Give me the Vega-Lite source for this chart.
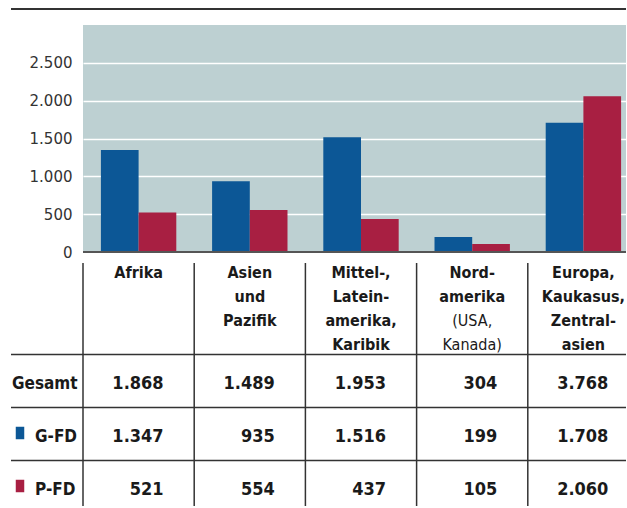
{
  "$schema": "https://vega.github.io/schema/vega-lite/v6.json",
  "width": 543,
  "height": 227,
  "padding": {"left": 10, "top": 8, "right": 0, "bottom": 0},
  "background": "white",
  "config": {
    "view": {"fill": "#bdd0d2", "stroke": null},
    "locale": {"number": {"decimal": ",", "thousands": ".", "grouping": [3], "currency": ["", " €"]}},
    "text": {"font": "DejaVu Sans Condensed"}
  },
  "datasets": {
    "werte": [
      {"Region": "Afrika", "Reihe": "Gesamt", "Wert": 1868},
      {"Region": "Afrika", "Reihe": "G-FD", "Wert": 1347},
      {"Region": "Afrika", "Reihe": "P-FD", "Wert": 521},
      {"Region": "Asien und Pazifik", "Reihe": "Gesamt", "Wert": 1489},
      {"Region": "Asien und Pazifik", "Reihe": "G-FD", "Wert": 935},
      {"Region": "Asien und Pazifik", "Reihe": "P-FD", "Wert": 554},
      {"Region": "Mittel-, Lateinamerika, Karibik", "Reihe": "Gesamt", "Wert": 1953},
      {"Region": "Mittel-, Lateinamerika, Karibik", "Reihe": "G-FD", "Wert": 1516},
      {"Region": "Mittel-, Lateinamerika, Karibik", "Reihe": "P-FD", "Wert": 437},
      {"Region": "Nordamerika (USA, Kanada)", "Reihe": "Gesamt", "Wert": 304},
      {"Region": "Nordamerika (USA, Kanada)", "Reihe": "G-FD", "Wert": 199},
      {"Region": "Nordamerika (USA, Kanada)", "Reihe": "P-FD", "Wert": 105},
      {"Region": "Europa, Kaukasus, Zentralasien", "Reihe": "Gesamt", "Wert": 3768},
      {"Region": "Europa, Kaukasus, Zentralasien", "Reihe": "G-FD", "Wert": 1708},
      {"Region": "Europa, Kaukasus, Zentralasien", "Reihe": "P-FD", "Wert": 2060}
    ],
    "koepfe": [
      {"Region": "Afrika", "Kopf": "Afrika", "Zusatz": ""},
      {"Region": "Asien und Pazifik", "Kopf": "Asien\nund\nPazifik", "Zusatz": ""},
      {"Region": "Mittel-, Lateinamerika, Karibik", "Kopf": "Mittel-,\nLatein-\namerika,\nKaribik", "Zusatz": ""},
      {"Region": "Nordamerika (USA, Kanada)", "Kopf": "Nord-\namerika", "Zusatz": "(USA,\nKanada)"},
      {"Region": "Europa, Kaukasus, Zentralasien", "Kopf": "Europa,\nKaukasus,\nZentral-\nasien", "Zusatz": ""}
    ]
  },
  "resolve": {"scale": {"y": "independent"}},
  "layer": [
    {
      "layer": [
        {
          "data": {"name": "werte"},
          "transform": [{"filter": "datum.Reihe !== 'Gesamt'"}],
          "mark": {"type": "bar"},
          "encoding": {
            "x": {"field": "Region", "type": "nominal", "axis": null,
                  "scale": {"domain": ["Afrika", "Asien und Pazifik", "Mittel-, Lateinamerika, Karibik", "Nordamerika (USA, Kanada)", "Europa, Kaukasus, Zentralasien"], "range": [0, 556], "paddingInner": 0, "paddingOuter": 0}},
            "xOffset": {"field": "Reihe", "type": "nominal", "scale": {"domain": ["G-FD", "P-FD"], "paddingInner": 0, "paddingOuter": 0.475}},
            "y": {"field": "Wert", "type": "quantitative",
                  "scale": {"domain": [0, 3000], "nice": false},
                  "axis": {"values": [0, 500, 1000, 1500, 2000, 2500], "format": ",d", "grid": true, "gridColor": "white", "gridWidth": 1.5, "domain": false, "ticks": false, "labelFont": "DejaVu Sans", "labelFontSize": 15, "labelColor": "#333", "labelPadding": 11, "title": null}},
            "color": {"field": "Reihe", "type": "nominal", "legend": null,
                      "scale": {"domain": ["G-FD", "P-FD"], "range": ["#0c5796", "#a81f42"]}}
          }
        },
        {
          "data": {"values": [{}]},
          "mark": {"type": "rule", "color": "#555555", "strokeWidth": 2},
          "encoding": {"y": {"datum": 0, "type": "quantitative"}}
        },
        {
          "data": {"values": [{}]},
          "mark": {"type": "rule", "color": "#333333", "strokeWidth": 2, "yOffset": -16, "xOffset": -72},
          "encoding": {
            "x": {"datum": "Afrika", "type": "nominal", "bandPosition": 0},
            "x2": {"value": "width"},
            "y": {"datum": 3000, "type": "quantitative"}
          }
        },
        {
          "data": {"name": "koepfe"},
          "mark": {"type": "rule", "color": "#333333", "strokeWidth": 1.5, "yOffset": 11, "y2Offset": 254},
          "encoding": {
            "x": {"field": "Region", "type": "nominal", "bandPosition": 0},
            "y": {"datum": 0, "type": "quantitative"},
            "y2": {"datum": 0}
          }
        },
        {
          "data": {"name": "koepfe"},
          "mark": {"type": "text", "lineBreak": "\n", "lineHeight": 24, "fontSize": 16, "fontWeight": "bold", "color": "#1a1a1a", "align": "center", "baseline": "alphabetic", "dy": 26},
          "encoding": {
            "x": {"field": "Region", "type": "nominal"},
            "y": {"datum": 0, "type": "quantitative"},
            "text": {"field": "Kopf"}
          }
        },
        {
          "data": {"name": "koepfe"},
          "transform": [{"filter": "datum.Zusatz !== ''"}],
          "mark": {"type": "text", "lineBreak": "\n", "lineHeight": 24, "fontSize": 16, "color": "#1a1a1a", "align": "center", "baseline": "alphabetic", "dy": 74},
          "encoding": {
            "x": {"field": "Region", "type": "nominal"},
            "y": {"datum": 0, "type": "quantitative"},
            "text": {"field": "Zusatz"}
          }
        }
      ]
    },
    {
      "layer": [
        {
          "data": {"name": "werte"},
          "transform": [{"filter": "datum.Region === 'Afrika'"}],
          "mark": {"type": "rule", "color": "#333333", "strokeWidth": 1.5, "xOffset": -72},
          "encoding": {
            "x": {"field": "Region", "type": "nominal", "bandPosition": 0},
            "x2": {"value": "width"},
            "y": {"field": "Reihe", "type": "nominal", "bandPosition": 0, "axis": null,
                  "scale": {"domain": ["Gesamt", "G-FD", "P-FD"], "range": [329.5, 488.5], "paddingInner": 0, "paddingOuter": 0}}
          }
        },
        {
          "data": {"name": "werte"},
          "mark": {"type": "text", "fontSize": 18, "fontWeight": "bold", "color": "#1a1a1a", "align": "right", "baseline": "alphabetic", "dx": 25, "dy": 8},
          "encoding": {
            "x": {"field": "Region", "type": "nominal"},
            "y": {"field": "Reihe", "type": "nominal"},
            "text": {"field": "Wert", "type": "quantitative", "format": ",d"}
          }
        },
        {
          "data": {"name": "werte"},
          "transform": [{"filter": "datum.Region === 'Afrika' && datum.Reihe === 'Gesamt'"}],
          "mark": {"type": "text", "fontSize": 17, "fontWeight": "bold", "color": "#1a1a1a", "align": "left", "baseline": "alphabetic", "dx": -71, "dy": 8},
          "encoding": {
            "x": {"field": "Region", "type": "nominal", "bandPosition": 0},
            "y": {"field": "Reihe", "type": "nominal"},
            "text": {"field": "Reihe"}
          }
        },
        {
          "data": {"name": "werte"},
          "transform": [{"filter": "datum.Region === 'Afrika' && datum.Reihe !== 'Gesamt'"}],
          "mark": {"type": "text", "fontSize": 17, "fontWeight": "bold", "color": "#1a1a1a", "align": "left", "baseline": "alphabetic", "dx": -48, "dy": 8},
          "encoding": {
            "x": {"field": "Region", "type": "nominal", "bandPosition": 0},
            "y": {"field": "Reihe", "type": "nominal"},
            "text": {"field": "Reihe"}
          }
        },
        {
          "data": {"name": "werte"},
          "transform": [{"filter": "datum.Region === 'Afrika' && datum.Reihe !== 'Gesamt'"}],
          "mark": {"type": "point", "shape": "M-0.68,-1H0.68V1H-0.68Z", "size": 156, "filled": true, "opacity": 1, "xOffset": -63, "yOffset": -1},
          "encoding": {
            "x": {"field": "Region", "type": "nominal", "bandPosition": 0},
            "y": {"field": "Reihe", "type": "nominal"},
            "color": {"field": "Reihe", "type": "nominal", "legend": null}
          }
        }
      ]
    }
  ]
}
